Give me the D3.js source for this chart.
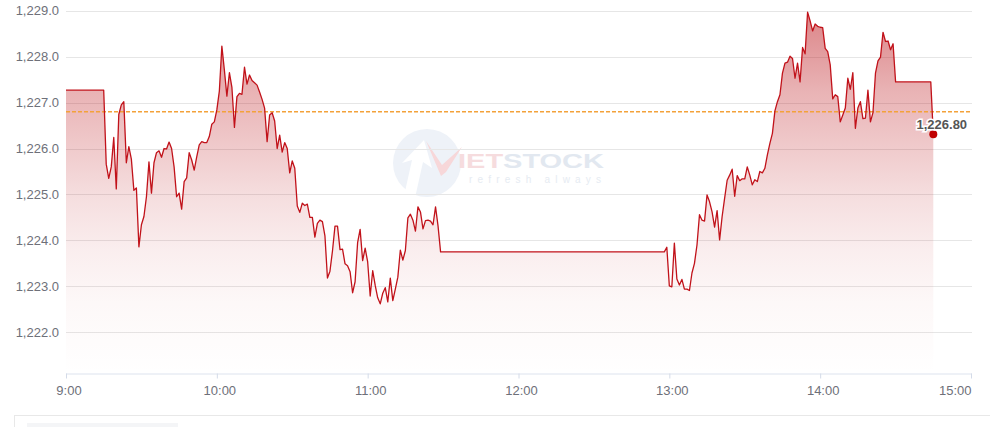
<!DOCTYPE html>
<html><head><meta charset="utf-8">
<script src="https://cdn.jsdelivr.net/npm/d3@7/dist/d3.min.js"></script>
<style>
html,body{margin:0;padding:0;background:#fff;}
svg{display:block;font-family:"Liberation Sans",Arial,sans-serif;}
</style>
</head><body>
<svg id="chart" width="990" height="427"></svg>
<script>
// ---------- DATA ----------
const times = [
"9:00","9:15","9:16","9:17","9:18","9:19","9:20","9:21","9:22","9:23","9:24","9:25","9:26","9:27","9:28","9:29",
"9:30","9:31","9:32","9:33","9:34","9:35","9:36","9:37","9:38","9:39","9:40","9:41","9:42","9:43","9:44","9:45",
"9:46","9:47","9:48","9:49","9:50","9:51","9:52","9:53","9:54","9:55","9:56","9:57","9:58","9:59",
"10:00","10:01","10:02","10:03","10:04","10:05","10:06","10:07","10:08","10:09","10:10","10:11","10:12","10:13","10:14","10:15",
"10:16","10:17","10:18","10:19","10:20","10:21","10:22","10:23","10:24","10:25","10:26","10:27","10:28","10:29","10:30","10:31",
"10:32","10:33","10:34","10:35","10:36","10:37","10:38","10:39","10:40","10:41","10:42","10:43","10:44","10:45","10:46","10:47",
"10:48","10:49","10:50","10:51","10:52","10:53","10:54","10:55","10:56","10:57","10:58","10:59",
"11:00","11:01","11:02","11:03","11:04","11:05","11:06","11:07","11:08","11:09","11:10","11:11","11:12","11:13","11:14","11:15",
"11:16","11:17","11:18","11:19","11:20","11:21","11:22","11:23","11:24","11:25","11:26","11:27","11:28","11:29","11:30",
"12:58","12:59",
"13:00","13:01","13:02","13:03","13:04","13:05","13:06","13:07","13:08","13:09","13:10","13:11","13:12","13:13","13:14","13:15",
"13:16","13:17","13:18","13:19","13:20","13:21","13:22","13:23","13:24","13:25","13:26","13:27","13:28","13:29","13:30","13:31",
"13:32","13:33","13:34","13:35","13:36","13:37","13:38","13:39","13:40","13:41","13:42","13:43","13:44","13:45","13:46","13:47",
"13:48","13:49","13:50","13:51","13:52","13:53","13:54","13:55","13:56","13:57","13:58","13:59",
"14:00","14:01","14:02","14:03","14:04","14:05","14:06","14:07","14:08","14:09","14:10","14:11","14:12","14:13","14:14","14:15",
"14:16","14:17","14:18","14:19","14:20","14:21","14:22","14:23","14:24","14:25","14:26","14:27","14:28","14:29","14:30",
"14:44","14:45"
];
const values = [
1227.27,1227.27,1225.66,1225.35,1225.60,1226.24,1225.12,1226.74,1226.95,1227.02,1225.69,1226.04,1225.77,1225.09,1225.14,1223.86,
1224.34,1224.52,1224.95,1225.71,1225.03,1225.69,1225.91,1225.95,1225.81,1226.00,1225.99,1226.14,1226.00,1225.60,1224.95,1225.03,
1224.68,1225.28,1225.36,1225.91,1225.75,1225.53,1225.82,1226.08,1226.15,1226.13,1226.13,1226.26,1226.53,1226.58,
1226.84,1227.25,1228.23,1227.71,1227.14,1227.65,1227.33,1226.46,1227.13,1227.20,1227.18,1227.77,1227.40,1227.60,1227.48,1227.43,
1227.38,1227.23,1227.07,1226.88,1226.15,1226.73,1226.78,1226.60,1226.00,1226.29,1225.92,1226.13,1226.00,1225.47,1225.73,1225.57,
1224.75,1224.61,1224.81,1224.76,1224.79,1224.50,1224.50,1224.07,1224.37,1224.44,1224.41,1224.10,1223.18,1223.33,1223.77,1224.31,
1224.31,1223.80,1223.81,1223.49,1223.45,1223.32,1222.86,1223.10,1223.95,1224.24,1223.56,1223.83,
1223.53,1222.79,1223.34,1223.02,1222.75,1222.62,1222.85,1222.97,1222.66,1223.18,1222.69,1222.94,1223.20,1223.79,1223.57,1223.78,
1224.49,1224.57,1224.44,1224.20,1224.73,1224.62,1224.25,1224.43,1224.44,1224.42,1224.34,1224.73,1224.31,1223.75,1223.75,
1223.75,1223.85,
1223.01,1222.99,1223.94,1223.16,1223.03,1223.15,1222.94,1222.94,1222.91,1223.29,1223.50,1223.90,1224.56,1224.44,1224.42,1224.99,
1224.84,1224.62,1224.29,1224.65,1224.01,1224.52,1224.92,1225.31,1225.42,1225.55,1224.96,1225.41,1225.30,1225.34,1225.34,1225.60,
1225.42,1225.21,1225.32,1225.28,1225.50,1225.47,1225.57,1225.86,1226.11,1226.33,1226.82,1227.02,1227.17,1227.64,1227.86,1227.88,
1228.01,1227.96,1227.53,1227.86,1227.45,1228.20,1228.06,1228.97,1228.78,1228.56,1228.71,1228.66,
1228.64,1228.63,1228.18,1228.11,1227.82,1227.08,1227.17,1227.13,1226.58,1226.73,1226.88,1227.53,1227.29,1227.65,1226.44,1226.88,
1227.02,1226.65,1226.66,1227.27,1226.58,1226.78,1227.64,1227.91,1227.99,1228.53,1228.33,1228.34,1228.15,1228.28,1227.45,
1227.45,1226.31
];
const yTickValues = [1222,1223,1224,1225,1226,1227,1228,1229];
const xTickLabels = ["9:00","10:00","11:00","12:00","13:00","14:00","15:00"];
const referenceValue = 1226.80;
const lastPriceLabel = "1,226.80";

// ---------- SETUP ----------
const toMin = s => { const p = s.split(":").map(Number); return (p[0]-9)*60 + p[1]; };
const data = times.map((t,i) => ({m: toMin(t), v: values[i]}));
const svg = d3.select("#chart");
const X0 = 66, X1 = 971, YT = 10.7, YB = 373.3;
const x = d3.scaleLinear().domain([0, 360]).range([X0, X1]);
const y = d3.scaleLinear().domain([1221.107, 1229]).range([YB, YT]);

// bottom box (legend/slider frame)
svg.append("rect").attr("x",14.5).attr("y",415.5).attr("width",990).attr("height",30)
  .attr("fill","#fff").attr("stroke","#e8e8e8");
svg.append("rect").attr("x",27).attr("y",423).attr("width",151).attr("height",10).attr("fill","#f4f5f7");

// watermark
const wm = svg.append("g");
wm.append("circle").attr("cx",427).attr("cy",163).attr("r",34).attr("fill","#eef2f8");
wm.append("path").attr("d","M404,196 L412,160 L402,163 L424,140 L432,168 L423,162 L415,198 Z").attr("fill","#ffffff");
wm.append("path").attr("d","M426,141 L442,165 L462,147 L446,172 L441,176 Z").attr("fill","#f7d7d9");
wm.append("text").attr("x",458).attr("y",168).attr("font-size",21).attr("font-weight","bold")
  .attr("textLength",146).attr("lengthAdjust","spacingAndGlyphs")
  .attr("fill","#f6dcde").text("IET")
  .append("tspan").attr("fill","#e2e8f0").text("STOCK");
wm.append("text").attr("x",469).attr("y",183).attr("font-size",10)
  .attr("textLength",132).attr("lengthAdjust","spacing")
  .attr("fill","#e6ebf2").text("refresh always");

// grid
svg.append("g").selectAll("line").data(yTickValues).join("line")
  .attr("x1",X0).attr("x2",972)
  .attr("y1",d=>Math.round(y(d))+0.5).attr("y2",d=>Math.round(y(d))+0.5)
  .attr("stroke","#e6e6e6").attr("stroke-width",1);

// y labels
svg.append("g").selectAll("text").data(yTickValues).join("text")
  .attr("x",59).attr("y",d=>y(d)).attr("dy","0.35em").attr("text-anchor","end")
  .attr("font-size",13).attr("fill","#6e7079").text(d=>d3.format(",.1f")(d));

// x axis
const xAxis = d3.axisBottom(x).tickValues(d3.range(0,361,60)).tickSize(5)
  .tickFormat((d,i)=>xTickLabels[i]);
const gx = svg.append("g").attr("transform",`translate(0,${Math.round(YB)+0.5})`).call(xAxis);
gx.select(".domain").attr("stroke","#dde3ee").attr("d",`M${X0},0.5H972`);
gx.selectAll(".tick line").attr("stroke","#d4dbe8");
gx.selectAll(".tick text").attr("font-size",13).attr("fill","#6e7079")
  .attr("font-family","Liberation Sans, Arial, sans-serif").attr("dy","1.05em")
  .attr("dx",(d,i)=> i===xTickLabels.length-1 ? 0 : 2.5)
  .attr("text-anchor",(d,i)=> i===xTickLabels.length-1 ? "end" : "middle");

// gradient (fades quickly toward the bottom)
const defs = svg.append("defs");
const grad = defs.append("linearGradient").attr("id","areaGrad")
  .attr("gradientUnits","userSpaceOnUse").attr("x1",0).attr("x2",0).attr("y1",y(d3.max(values))).attr("y2",YB);
[[0,0.5],[0.22,0.31],[0.5,0.14],[0.66,0.07],[0.8,0.03],[1,0]].forEach(s=>{
  grad.append("stop").attr("offset",s[0]).attr("stop-color","#b80a10").attr("stop-opacity",s[1]);
});

// area
const area = d3.area().x(d=>x(d.m)).y0(YB).y1(d=>y(d.v));
svg.append("path").datum(data).attr("d",area).attr("fill","url(#areaGrad)");

// reference dashed line
svg.append("line").attr("x1",X0).attr("x2",972)
  .attr("y1",y(referenceValue)).attr("y2",y(referenceValue))
  .attr("stroke","#f3a23a").attr("stroke-width",1.4).attr("stroke-dasharray","4,2");

// price line
const line = d3.line().x(d=>x(d.m)).y(d=>y(d.v));
svg.append("path").datum(data).attr("d",line).attr("fill","none")
  .attr("stroke","#c1121a").attr("stroke-width",1.3).attr("stroke-linejoin","round");

// last point
const last = data[data.length-1];
svg.append("circle").attr("cx",x(last.m)).attr("cy",y(last.v)).attr("r",4).attr("fill","#c00000");
svg.append("text").attr("x",x(last.m)+8.5).attr("y",y(last.v)-5).attr("text-anchor","middle")
  .attr("font-size",13).attr("font-weight","bold").attr("fill","#555")
  .attr("stroke","#fff").attr("stroke-width",3).attr("paint-order","stroke")
  .text(lastPriceLabel);
</script>
</body></html>
